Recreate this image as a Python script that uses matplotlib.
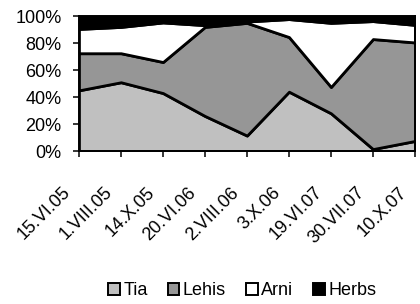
import matplotlib
matplotlib.use("Agg")
import matplotlib.pyplot as plt
import matplotlib.transforms as mtransforms
import numpy as np

plt.rcParams['font.family'] = ['Liberation Sans', 'DejaVu Sans']

dates = ["15.VI.05", "1.VIII.05", "14.X.05", "20.VI.06", "2.VIII.06",
         "3.X.06", "19.VI.07", "30.VII.07", "10.X.07"]
tia = [45, 51, 43, 26, 11.5, 44, 28, 1.5, 7.5]
lehis = [27.5, 21.5, 23, 66, 83.5, 40.5, 19.5, 81.5, 73]
arni = [18, 19.5, 29.3, 1.3, 1, 13.3, 47.5, 13.3, 13]
herbs = [9.5, 8, 4.7, 6.7, 4, 2.2, 5, 3.7, 6.5]
series_names = ["Tia", "Lehis", "Arni", "Herbs"]
colors = ["#C0C0C0", "#969696", "#FFFFFF", "#000000"]
yticks = [0, 20, 40, 60, 80, 100]

fig = plt.figure(figsize=(4.2, 3.04), dpi=100)
ax = fig.add_axes([0.188, 0.503, 0.800, 0.444])
x = np.arange(len(dates))
ax.stackplot(x, tia, lehis, arni, herbs, colors=colors, labels=series_names,
             edgecolor="black", linewidth=2.0)
ax.set_xlim(0, len(dates) - 1)
ax.set_ylim(0, 100)
ax.set_yticks(yticks)
ax.set_yticklabels([f"{v}%" for v in yticks], fontsize=13)
ax.set_xticks(x)
ax.set_xticklabels([])
ax.tick_params(axis="x", direction="out", length=4.5, width=1.1)
ax.tick_params(axis="y", direction="out", length=4.5, width=1.1, pad=8)
for s in ax.spines.values():
    s.set_linewidth(1.4)
    s.set_color("black")

offset = mtransforms.ScaledTranslation(-8.0 / 72, -28.0 / 72, fig.dpi_scale_trans)
for xi, lab in zip(x, dates):
    ax.text(xi, 0, lab, rotation=45, ha="right", va="center",
            rotation_mode="anchor", fontsize=13,
            transform=ax.get_xaxis_transform() + offset, clip_on=False)

handles = [plt.Rectangle((0, 0), 1, 1, facecolor=c, edgecolor="black", linewidth=1.4)
           for c in colors]
fig.legend(handles, series_names, loc="center", bbox_to_anchor=(0.577, 0.043),
           ncol=4, frameon=False, fontsize=13, handlelength=0.65, handleheight=0.65,
           handletextpad=0.2, columnspacing=1.1, borderaxespad=0, borderpad=0)

fig.savefig("out.png", dpi=100)
